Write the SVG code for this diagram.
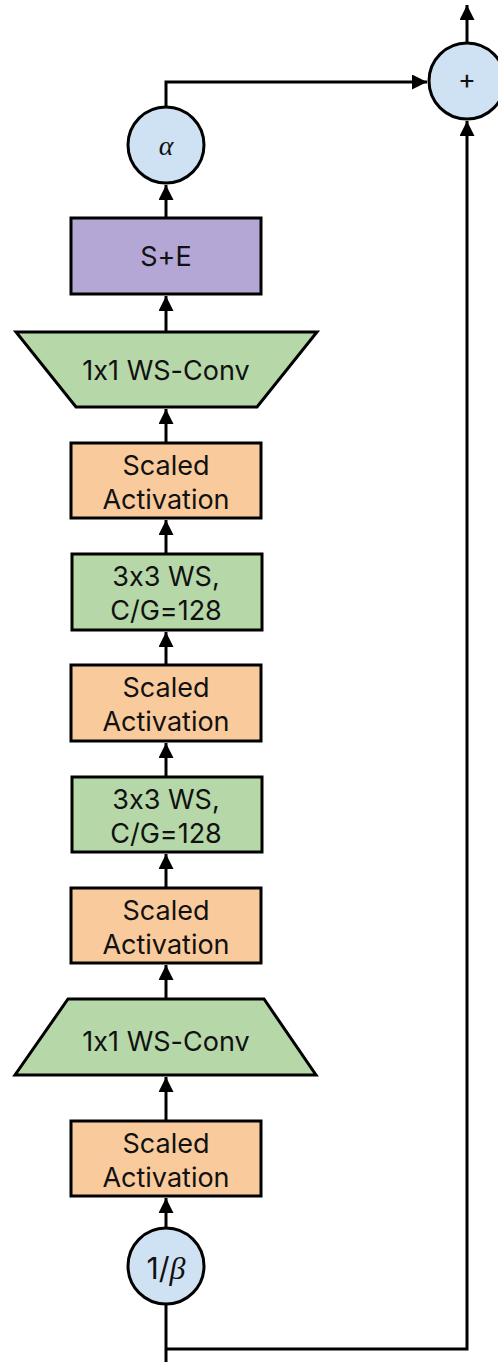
<svg xmlns="http://www.w3.org/2000/svg" width="498" height="1362" viewBox="0 0 498 1362">
<defs>
<marker id="ah" markerWidth="5" markerHeight="5" refX="5" refY="2.5" orient="auto" markerUnits="strokeWidth"><path d="M0,0 L5,2.5 L0,5 z" fill="#000"/></marker>
<style>
.n{stroke:#000;stroke-width:3}
.o{fill:#f9cb9c}.g{fill:#b6d7a8}.p{fill:#b4a7d6}.b{fill:#cfe2f3}
.t{font-family:Inter,"Liberation Sans",sans-serif;font-size:27px;fill:#111;text-anchor:middle;font-feature-settings:"calt" 0;font-variant-ligatures:none}
.m{font-family:"Liberation Serif",serif;font-style:italic;fill:#111;text-anchor:middle}
.c{fill:none;stroke:#000;stroke-width:3}
</style>
</defs>
<rect width="498" height="1362" fill="#fff"/>
<g id="connectors">
<path class="c" d="M166,1362 V1230" marker-end="url(#ah)"/>
<path class="c" d="M166,1349 H467 V121" marker-end="url(#ah)"/>
<path class="c" d="M166,1228 V1198" marker-end="url(#ah)"/>
<path class="c" d="M166,1121 V1077" marker-end="url(#ah)"/>
<path class="c" d="M166,999 V965" marker-end="url(#ah)"/>
<path class="c" d="M166,888 V854" marker-end="url(#ah)"/>
<path class="c" d="M166,777 V743" marker-end="url(#ah)"/>
<path class="c" d="M166,665 V632" marker-end="url(#ah)"/>
<path class="c" d="M166,554 V520" marker-end="url(#ah)"/>
<path class="c" d="M166,443 V409" marker-end="url(#ah)"/>
<path class="c" d="M166,332 V296" marker-end="url(#ah)"/>
<path class="c" d="M166,218 V185" marker-end="url(#ah)"/>
<path class="c" d="M166,107 V82 H427" marker-end="url(#ah)"/>
<path class="c" d="M467,43 V5" marker-end="url(#ah)"/>
</g>
<g id="beta"><circle class="n b" cx="166" cy="1266" r="38"/><text class="m" x="166" y="1279" font-size="32"><tspan font-family="Inter,'Liberation Sans',sans-serif" font-style="normal" font-size="30">1/</tspan>β</text></g>
<g id="act4"><rect class="n o" x="71" y="1121" width="190" height="75"/><text class="t" x="166" y="1153">Scaled</text><text class="t" x="166" y="1187">Activation</text></g>
<g id="conv1"><polygon class="n g" points="68,999 264,999 316,1075 15,1075"/><text class="t" x="166" y="1051" font-size="26">1x1 WS-Conv</text></g>
<g id="act3"><rect class="n o" x="71" y="888" width="190" height="75"/><text class="t" x="166" y="920">Scaled</text><text class="t" x="166" y="954">Activation</text></g>
<g id="ws2"><rect class="n g" x="72" y="777" width="190" height="75"/><text class="t" x="166" y="809">3x3 WS,</text><text class="t" x="166" y="843">C/G=128</text></g>
<g id="act2"><rect class="n o" x="71" y="665" width="190" height="76"/><text class="t" x="166" y="697">Scaled</text><text class="t" x="166" y="731">Activation</text></g>
<g id="ws1"><rect class="n g" x="72" y="554" width="190" height="76"/><text class="t" x="166" y="586">3x3 WS,</text><text class="t" x="166" y="620">C/G=128</text></g>
<g id="act1"><rect class="n o" x="71" y="443" width="190" height="75"/><text class="t" x="166" y="475">Scaled</text><text class="t" x="166" y="509">Activation</text></g>
<g id="conv2"><polygon class="n g" points="16,332 317,332 257,407 76,407"/><text class="t" x="166" y="380" font-size="26">1x1 WS-Conv</text></g>
<g id="se"><rect class="n p" x="71" y="218" width="190" height="76"/><text class="t" x="166" y="266">S+E</text></g>
<g id="alpha"><circle class="n b" cx="166" cy="145" r="38"/><text class="m" x="166" y="155" font-size="28">α</text></g>
<g id="plus"><circle class="n b" cx="467" cy="81" r="38"/><text class="t" x="467" y="89" font-size="20">+</text></g>
</svg>
